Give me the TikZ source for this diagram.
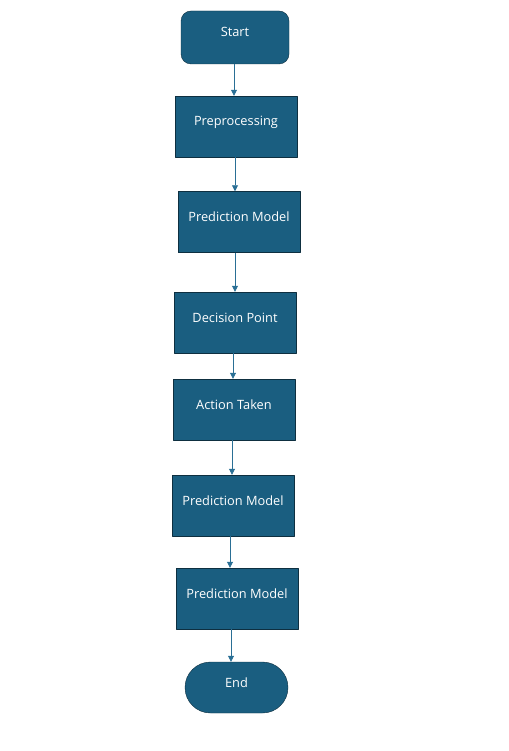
\documentclass[tikz,border=0pt]{standalone}
\usepackage{fontspec}
\setmainfont{Open Sans}
\usetikzlibrary{arrows.meta, shapes.misc}

\definecolor{boxfill}{HTML}{1A5E80}
\definecolor{boxline}{HTML}{0E2F40}
\definecolor{flowline}{HTML}{2A6F95}

\begin{document}
\begin{tikzpicture}[x=1pt, y=-1pt, line join=round,
	stepbox/.style={draw=boxline, fill=boxfill, text=white, inner sep=0pt,
		minimum width=122pt, minimum height=61pt,
		text height=8pt, text depth=9pt,
		font=\fontsize{12.8}{14}\selectfont},
	flow/.style={draw=flowline, line width=0.8pt, -{Triangle[length=6pt, width=6pt]}}]
	
	% Page size
	\useasboundingbox (0,0) rectangle (508,751);
	
	% 1. Terminals
	\node[stepbox, rounded corners=10pt, minimum width=108pt, minimum height=53pt] (start) at (235,37.5) {Start};
	\node[stepbox, rounded rectangle, minimum width=103pt, minimum height=51pt] (end) at (236.5,687.5) {End};
	
	% 2. Process boxes
	\node[stepbox] (prep) at (236,126.5) {Preprocessing};
	\node[stepbox] (predA) at (239,222) {Prediction Model};
	\node[stepbox] (decide) at (235,322.5) {Decision Point};
	\node[stepbox] (act) at (234,409.5) {Action Taken};
	\node[stepbox] (predB) at (233,505.5) {Prediction Model};
	\node[stepbox] (predC) at (237,598.5) {Prediction Model};
	
	% 3. Connectors (shifted to sit where the arrows run)
	\foreach \a/\b/\dx in {start/prep/-1, prep/predA/-1, predA/decide/-4, decide/act/-2,
		act/predB/-2, predB/predC/-3, predC/end/-6} {
		\draw[flow] ([xshift=\dx pt]\a.south) -- ([xshift=\dx pt]\a.south |- \b.north);
	}
	
\end{tikzpicture}
\end{document}
